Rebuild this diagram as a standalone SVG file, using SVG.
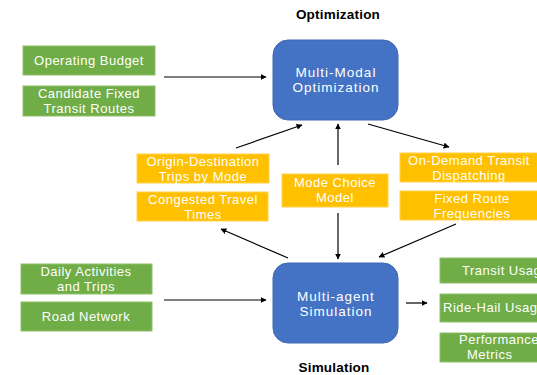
<svg xmlns="http://www.w3.org/2000/svg" width="537" height="375" viewBox="0 0 537 375">
<style>
text{font-family:"Liberation Sans",Arial,sans-serif;font-size:13px;letter-spacing:0.5px;fill:#ffffff;text-anchor:middle}
.g{fill:#70AD47;stroke:#8fc06a;stroke-width:1}
.o{fill:#FFC000;stroke:#ffd24d;stroke-width:1}
.b{fill:#4472C4;stroke:#3d68b5;stroke-width:1}
.bt{font-size:13.5px;letter-spacing:1px}
.lbl{fill:#000000;font-weight:bold;font-size:13.5px;letter-spacing:0.2px}
.c line{stroke:#000000;stroke-width:1.2;marker-end:url(#ah)}
.st{text-anchor:start}
</style>
<defs>
<marker id="ah" viewBox="0 0 10 10" refX="9" refY="5" markerWidth="6" markerHeight="6" orient="auto" markerUnits="userSpaceOnUse">
<path d="M0,0 L10,5 L0,10 z" fill="#000000"/>
</marker>
</defs>
<rect width="537" height="375" fill="#ffffff"/>
<text class="lbl" x="338" y="19">Optimization</text>
<text class="lbl" x="334" y="372">Simulation</text>

<g id="operating-budget"><rect class="g" x="23" y="46" width="132" height="29"/><text x="89" y="65">Operating Budget</text></g>
<g id="candidate-routes"><rect class="g" x="23" y="86" width="132" height="30"/><text x="89" y="98">Candidate Fixed</text><text x="89" y="113">Transit Routes</text></g>

<g id="multi-modal-optimization"><rect class="b" x="273" y="40" width="125" height="80" rx="15"/><text class="bt" x="336" y="77">Multi-Modal</text><text class="bt" x="336" y="92">Optimization</text></g>

<g id="od-trips"><rect class="o" x="137" y="154" width="132" height="29"/><text x="203" y="166">Origin-Destination</text><text x="203" y="181">Trips by Mode</text></g>
<g id="congested-times"><rect class="o" x="137" y="192" width="131" height="29"/><text x="203" y="204">Congested Travel</text><text x="203" y="219">Times</text></g>
<g id="mode-choice"><rect class="o" x="282" y="174" width="106" height="33"/><text x="335" y="187">Mode Choice</text><text x="335" y="202">Model</text></g>
<g id="on-demand"><rect class="o" x="400" y="153" width="145" height="29"/><text x="469" y="165">On-Demand Transit</text><text x="469" y="180">Dispatching</text></g>
<g id="fixed-route"><rect class="o" x="400" y="191" width="145" height="29"/><text x="472" y="203">Fixed Route</text><text x="472" y="218">Frequencies</text></g>

<g id="daily-activities"><rect class="g" x="21" y="264" width="131" height="30"/><text x="86" y="276">Daily Activities</text><text x="86" y="291">and Trips</text></g>
<g id="road-network"><rect class="g" x="21" y="302" width="131" height="29"/><text x="86" y="321">Road Network</text></g>

<g id="multi-agent-simulation"><rect class="b" x="273" y="263" width="125" height="80" rx="15"/><text class="bt" x="336" y="301">Multi-agent</text><text class="bt" x="336" y="316">Simulation</text></g>

<g id="transit-usage"><rect class="g" x="440" y="258" width="110" height="25"/><text class="st" x="462" y="275">Transit Usage</text></g>
<g id="ride-hail-usage"><rect class="g" x="440" y="294" width="110" height="28"/><text class="st" x="443" y="312">Ride-Hail Usage</text></g>
<g id="performance-metrics"><rect class="g" x="440" y="333" width="110" height="29"/><text class="st" x="459" y="344">Performance</text><text class="st" x="467" y="359">Metrics</text></g>

<g id="connectors" class="c">
<line x1="164" y1="77" x2="266" y2="77"/>
<line x1="164" y1="300" x2="266" y2="300"/>
<line x1="236" y1="148" x2="302" y2="125"/>
<line x1="338" y1="165" x2="338" y2="124"/>
<line x1="368" y1="124" x2="449" y2="147"/>
<line x1="288" y1="258" x2="221" y2="229"/>
<line x1="338" y1="213" x2="338" y2="259"/>
<line x1="456" y1="224" x2="379" y2="257"/>
<line x1="406" y1="303" x2="427" y2="303"/>
</g>
</svg>
